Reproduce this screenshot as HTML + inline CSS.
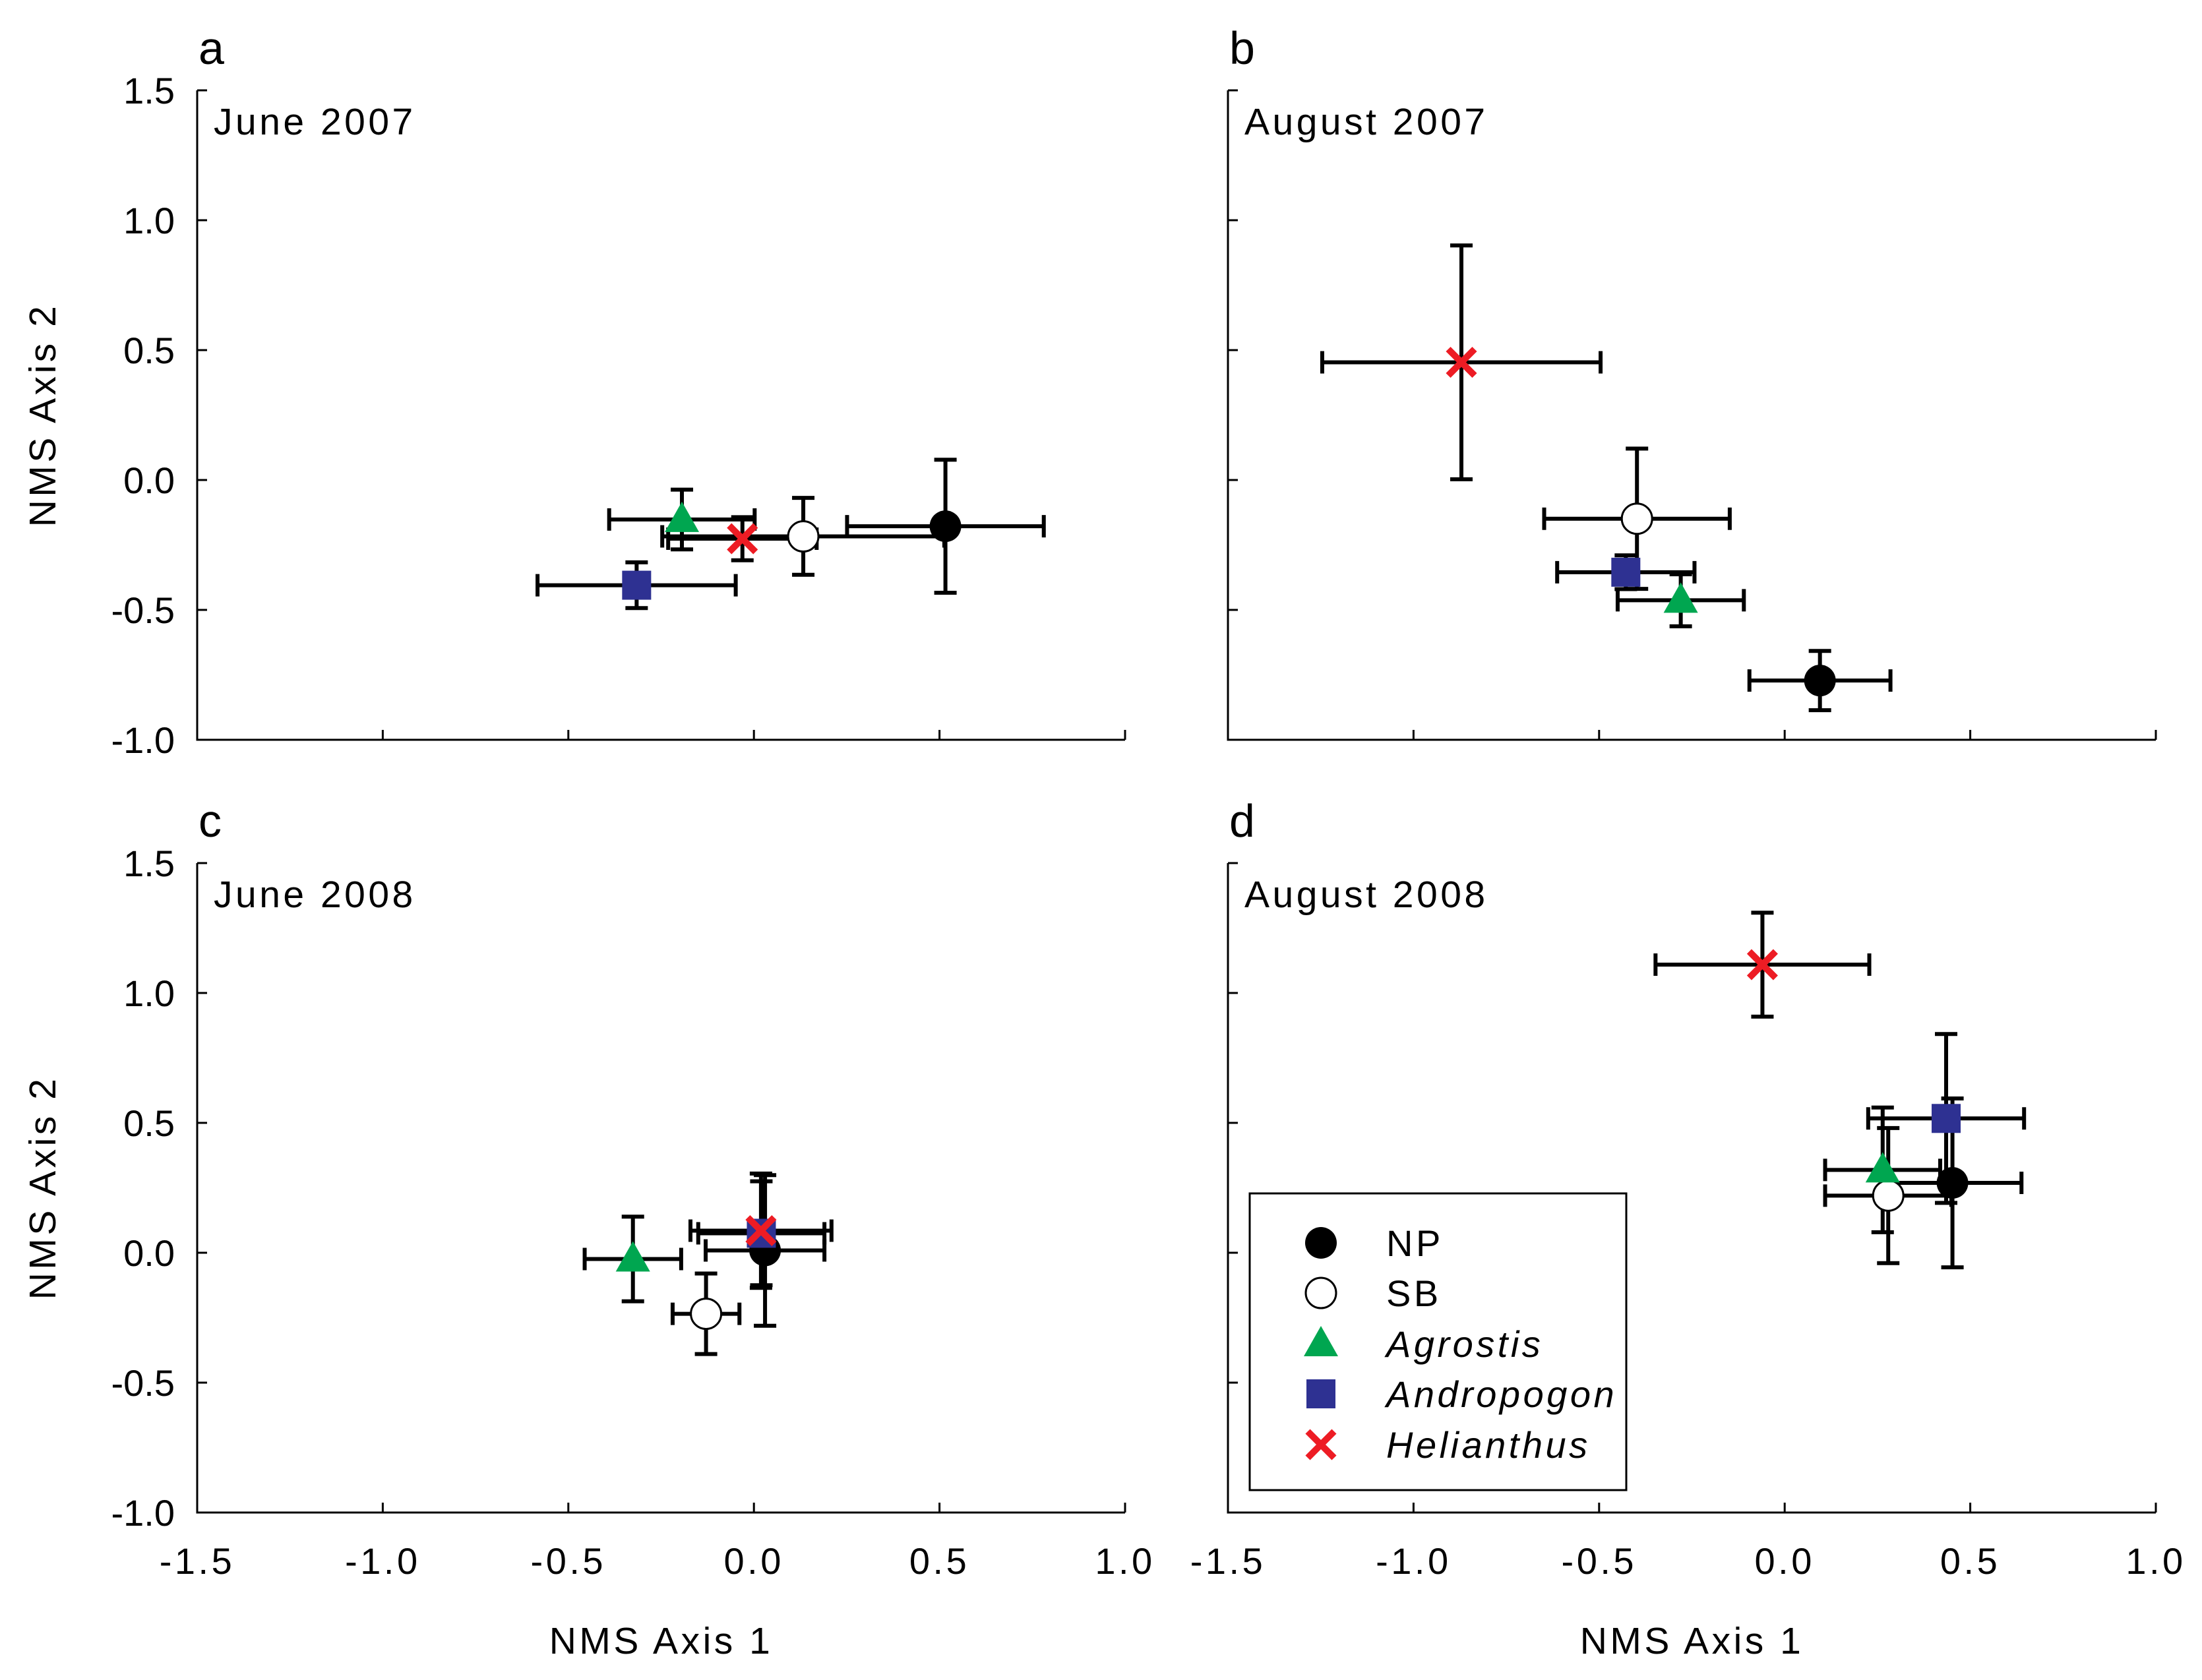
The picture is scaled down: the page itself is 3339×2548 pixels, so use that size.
<!DOCTYPE html>
<html><head><meta charset="utf-8"><style>
html,body{margin:0;padding:0;background:#fff}
svg{display:block}
text{font-family:"Liberation Sans",Arial,sans-serif;fill:#000}
.wide{letter-spacing:4.5px}
</style></head><body>
<svg id="chart" width="3339" height="2548" viewBox="0 0 3339 2548" xmlns="http://www.w3.org/2000/svg"></svg>
<script>
const seriesNames = ["NP","SB","Agrostis","Andropogon","Helianthus"];
const panelLetters = ["a","b","c","d"];
const panelTitles = ["June 2007","August 2007","June 2008","August 2008"];
const xTicks = [-1.5,-1.0,-0.5,0.0,0.5,1.0];
const yTicks = [-1.0,-0.5,0.0,0.5,1.0,1.5];
const xTickLabels = ["-1.5","-1.0","-0.5","0.0","0.5","1.0"];
const yTickLabels = ["-1.0","-0.5","0.0","0.5","1.0","1.5"];
// per panel, per series: x, y, xerr, yerr
const panelAX = [0.516,0.133,-0.194,-0.316,-0.031];
const panelAY = [-0.178,-0.217,-0.152,-0.405,-0.226];
const panelAXE = [0.265,0.38,0.196,0.267,0.2];
const panelAYE = [0.256,0.148,0.115,0.088,0.083];
const panelBX = [0.095,-0.398,-0.28,-0.428,-0.871];
const panelBY = [-0.772,-0.149,-0.463,-0.355,0.453];
const panelBXE = [0.19,0.25,0.17,0.185,0.375];
const panelBYE = [0.114,0.27,0.1,0.065,0.45];
const panelCX = [0.03,-0.129,-0.326,0.02,0.019];
const panelCY = [0.009,-0.235,-0.024,0.075,0.085];
const panelCXE = [0.16,0.09,0.13,0.17,0.19];
const panelCYE = [0.29,0.155,0.163,0.2,0.22];
const panelDX = [0.452,0.279,0.264,0.435,-0.06];
const panelDY = [0.269,0.22,0.319,0.517,1.109];
const panelDXE = [0.186,0.17,0.155,0.21,0.288];
const panelDYE = [0.325,0.26,0.24,0.325,0.2];

const NS="http://www.w3.org/2000/svg";
const svg=document.getElementById('chart');
function mk(tag,attrs,parent){const e=document.createElementNS(NS,tag);for(const k in attrs)e.setAttribute(k,attrs[k]);(parent||svg).appendChild(e);return e;}
const panels=[
 {x0:299,x1:1706,y0:137,y1:1122,d:[panelAX,panelAY,panelAXE,panelAYE],yl:true,xl:false},
 {x0:1862,x1:3269,y0:137,y1:1122,d:[panelBX,panelBY,panelBXE,panelBYE],yl:false,xl:false},
 {x0:299,x1:1706,y0:1309,y1:2294,d:[panelCX,panelCY,panelCXE,panelCYE],yl:true,xl:true},
 {x0:1862,x1:3269,y0:1309,y1:2294,d:[panelDX,panelDY,panelDXE,panelDYE],yl:false,xl:true}
];
function marker(g,i,cx,cy){
 let e;
 if(i===0){e=mk('circle',{cx:cx,cy:cy,r:24,fill:'#000'},g);}
 else if(i===1){e=mk('circle',{cx:cx,cy:cy,r:23,fill:'#fff',stroke:'#000','stroke-width':3},g);}
 else if(i===2){e=mk('polygon',{points:`${cx},${cy-27} ${cx-26},${cy+19} ${cx+26},${cy+19}`,fill:'#00a650'},g);}
 else if(i===3){e=mk('rect',{x:cx-22,y:cy-22,width:44,height:44,fill:'#2e3192'},g);}
 else {e=mk('path',{d:`M${cx-20},${cy-20}L${cx+20},${cy+20}M${cx+20},${cy-20}L${cx-20},${cy+20}`,stroke:'#ed1c24','stroke-width':10,fill:'none'},g);}
 
 
 return e;
}
panels.forEach((p,pi)=>{
 const sx=v=>p.x0+(v+1.5)/2.5*(p.x1-p.x0);
 const sy=v=>p.y1-(v+1.0)/2.5*(p.y1-p.y0);
 const g=mk('g',{});
 
 
 const ax=mk('path',{d:`M${p.x0},${p.y0}V${p.y1}H${p.x1}`,stroke:'#000','stroke-width':3,fill:'none'},g);
 
 
 xTicks.forEach((t,ti)=>{
  const x=sx(t);
  const tk=mk('line',{x1:x,x2:x,y1:p.y1,y2:p.y1-15,stroke:'#000','stroke-width':3},g);
  
  
  if(p.xl){const tl=mk('text',{x:x,y:p.y1+93,'font-size':56,'text-anchor':'middle',class:'wide'},g);tl.textContent=xTickLabels[ti];
   
   }
 });
 yTicks.forEach((t,ti)=>{
  const y=sy(t);
  const tk=mk('line',{x1:p.x0,x2:p.x0+15,y1:y,y2:y,stroke:'#000','stroke-width':3},g);
  
  
  if(p.yl){const tl=mk('text',{x:265,y:y+20,'font-size':56,'text-anchor':'end'},g);tl.textContent=yTickLabels[ti];
   
   }
 });
 const lt=mk('text',{x:p.x0+2,y:p.y0-40,'font-size':70},g);lt.textContent=panelLetters[pi];
 
 
 const tt=mk('text',{x:p.x0+25,y:p.y0+67,'font-size':57,class:'wide'},g);tt.textContent=panelTitles[pi];
 
 
 if(p.xl){const at=mk('text',{x:(p.x0+p.x1)/2,y:2508,'font-size':57,'text-anchor':'middle',class:'wide'},g);at.textContent='NMS Axis 1';
  
  }
 if(p.yl){const cy=(p.y0+p.y1)/2;const at=mk('text',{x:0,y:0,'font-size':57,'text-anchor':'middle',class:'wide',transform:`translate(84,${cy}) rotate(-90)`},g);at.textContent='NMS Axis 2';
  
  }
 const [X,Y,XE,YE]=p.d;
 const cap=17;
 for(let i=0;i<5;i++){
  const cx=sx(X[i]),cy=sy(Y[i]);
  const xa=sx(X[i]-XE[i]),xb=sx(X[i]+XE[i]),ya=sy(Y[i]+YE[i]),yb=sy(Y[i]-YE[i]);
  const eb=mk('path',{d:`M${xa},${cy}H${xb}M${xa},${cy-cap}V${cy+cap}M${xb},${cy-cap}V${cy+cap}M${cx},${ya}V${yb}M${cx-cap},${ya}H${cx+cap}M${cx-cap},${yb}H${cx+cap}`,stroke:'#000','stroke-width':6,fill:'none'},g);
  
  
 }
 for(let i=0;i<5;i++) marker(g,i,sx(X[i]),sy(Y[i]));
});
// legend
const lg=mk('g',{});


const lb=mk('rect',{x:1895,y:1810,width:571,height:450,fill:'#fff',stroke:'#000','stroke-width':3},lg);


const legendY=[1885,1961,2038,2114,2191];
for(let i=0;i<5;i++){
 const m=marker(lg,i,2003,legendY[i]);
 const t=mk('text',{x:2102,y:legendY[i]+20,'font-size':56,class:'wide','font-style':i>=2?'italic':'normal'},lg);
 t.textContent=seriesNames[i];
 
 
}
</script>
</body></html>
